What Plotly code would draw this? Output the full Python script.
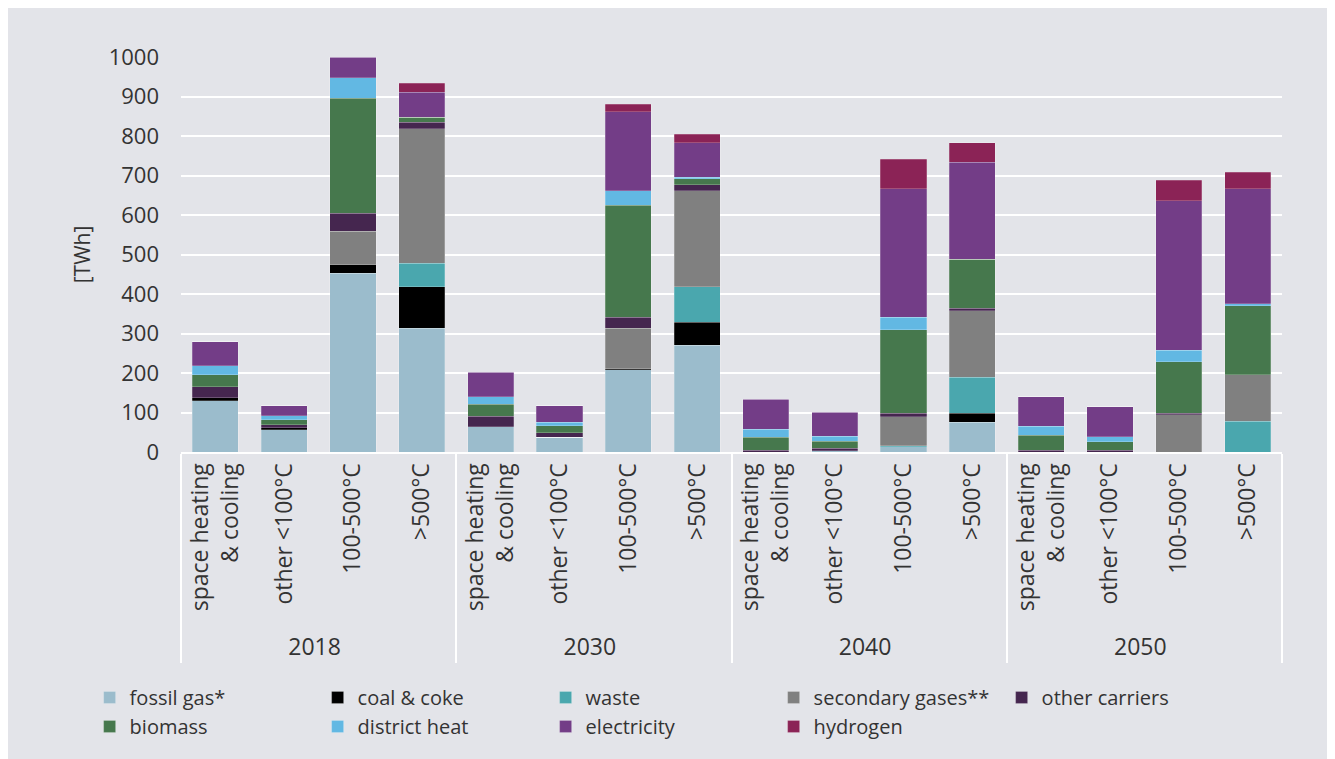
import plotly.graph_objects as go

years = ["2018"] * 4 + ["2030"] * 4 + ["2040"] * 4 + ["2050"] * 4
temps = ["space heating<br>& cooling", "other <100°C", "100-500°C", ">500°C"] * 4

fossil_gas = [130, 56, 452, 313, 64, 37, 208, 270, 0, 3, 13, 75, 0, 0, 0, 0]
coal_coke = [7, 6, 23, 106, 0, 0, 4, 58, 0, 0, 0, 23, 0, 0, 0, 0]
waste = [0, 0, 0, 59, 0, 0, 0, 90, 0, 0, 3, 91, 0, 0, 0, 78]
secondary_gases = [0, 0, 84, 341, 0, 0, 101, 244, 0, 0, 73, 169, 0, 0, 94, 117]
other_carriers = [28, 7, 45, 16, 27, 12, 28, 14, 4, 7, 9, 6, 4, 4, 4, 0]
biomass = [30, 13, 291, 13, 30, 17, 284, 16, 33, 17, 211, 124, 38, 22, 130, 175]
district_heat = [23, 10, 53, 0, 19, 9, 37, 3, 20, 13, 32, 0, 23, 13, 29, 5]
electricity = [61, 25, 52, 63, 62, 42, 199, 88, 76, 61, 325, 246, 75, 75, 379, 291]
hydrogen = [0, 0, 0, 22, 0, 0, 19, 22, 0, 0, 75, 49, 0, 0, 52, 42]

series = [
    ("fossil gas*", fossil_gas, "#9bbccc"),
    ("coal & coke", coal_coke, "#000000"),
    ("waste", waste, "#4aa7ae"),
    ("secondary gases**", secondary_gases, "#808080"),
    ("other carriers", other_carriers, "#45264f"),
    ("biomass", biomass, "#46784d"),
    ("district heat", district_heat, "#62b8e3"),
    ("electricity", electricity, "#733d87"),
    ("hydrogen", hydrogen, "#8b2356"),
]

FONT = "Open Sans"
TXT = "#333333"
BG = "#e3e4e9"

fig = go.Figure()
for name, vals, col in series:
    fig.add_trace(go.Bar(
        x=[years, temps], y=vals, name=name,
        marker=dict(color=col, line=dict(width=0.6, color="rgba(255,255,255,0.35)")),
    ))

fig.update_layout(
    barmode="stack",
    bargap=0.33,
    width=1335, height=759,
    margin=dict(l=173, r=61, t=49, b=315),
    paper_bgcolor=BG, plot_bgcolor=BG,
    font=dict(family=FONT, size=20, color=TXT),
    legend=dict(
        orientation="h", x=-0.083, xanchor="left", y=-0.572, yanchor="top",
        entrywidth=183, font=dict(size=20, color=TXT), traceorder="normal",
        bgcolor="rgba(0,0,0,0)", itemclick=False,
    ),
    showlegend=True,
)
fig.update_yaxes(
    range=[0, 1000], dtick=100, showgrid=True, gridcolor="white", gridwidth=2,
    zeroline=False, showline=False,
    tickfont=dict(family=FONT, size=22, color=TXT), ticklabelstandoff=21,
    title=dict(text="[TWh]", font=dict(family=FONT, size=21, color=TXT), standoff=12),
)
fig.update_xaxes(
    type="multicategory", tickangle=-90, showline=True, linecolor="white", linewidth=2,
    showdividers=True, dividercolor="white", dividerwidth=2,
    tickfont=dict(family=FONT, size=23, color=TXT), ticks="",
)

fig.write_html("out.html")
